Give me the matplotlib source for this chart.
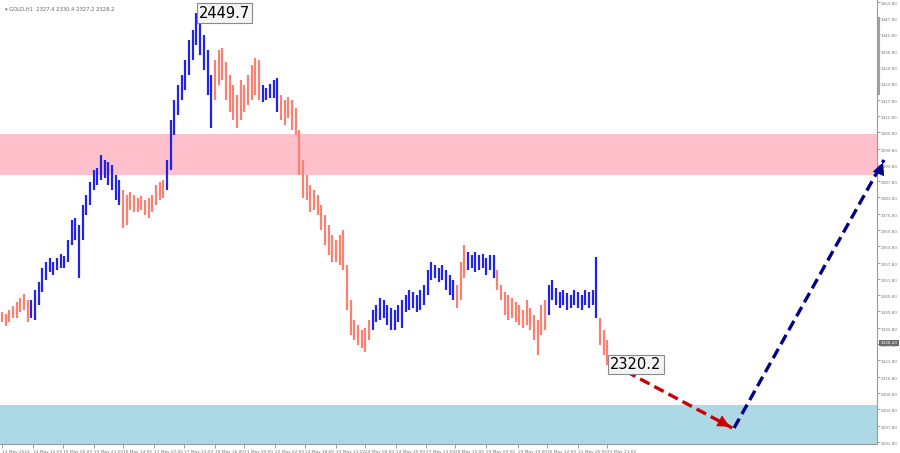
import matplotlib
matplotlib.use('Agg')
import matplotlib.pyplot as plt
import matplotlib.transforms as mtransforms

# hourly bars (one bar shown per two hours), high / low
highs = [2339.6, 2338.9, 2340.4, 2341.8, 2343.3, 2344.8, 2346.2, 2344.0,
         2344.0, 2347.7, 2350.7, 2355.8, 2358.0, 2359.5, 2358.0, 2359.5, 2361.0, 2360.2,
         2366.1, 2373.5, 2374.2, 2371.7, 2379.0, 2382.7, 2387.5, 2391.9, 2392.6, 2397.4,
         2395.6, 2394.9, 2393.7, 2390.1, 2388.2,
         2384.5, 2382.7, 2383.8, 2382.7, 2381.6, 2382.3, 2380.9, 2381.6, 2382.7, 2386.4,
         2387.5, 2388.2,
         2395.6, 2410.3, 2417.7, 2423.2, 2426.9, 2432.4, 2439.8, 2443.5, 2449.7, 2446.4,
         2441.6, 2436.1, 2426.9,
         2432.4, 2436.1, 2436.8, 2431.7, 2426.9, 2423.2, 2419.5, 2425.0, 2423.2, 2426.9,
         2430.6, 2433.1, 2432.4,
         2423.2, 2422.1, 2423.6, 2425.0, 2425.8,
         2419.5, 2417.7, 2418.8, 2417.7, 2414.7, 2406.6, 2395.6, 2390.1, 2386.4, 2384.5,
         2382.7, 2379.0, 2375.3, 2371.7, 2368.0, 2366.1, 2368.0, 2369.8, 2356.9, 2344.0,
         2336.7, 2334.8, 2333.0, 2333.7, 2336.7,
         2340.4, 2342.2, 2344.8, 2344.0, 2342.2, 2341.1, 2340.4, 2342.2, 2344.0, 2345.9,
         2347.7, 2347.0, 2345.9, 2347.7, 2349.6, 2355.1, 2358.0, 2356.9, 2355.8, 2356.9,
         2355.1, 2353.2, 2351.4,
         2349.6, 2358.0, 2364.3,
         2361.7, 2360.6, 2361.7, 2360.6, 2361.0, 2359.5, 2360.6, 2360.6,
         2355.1, 2349.6, 2347.0, 2345.9, 2344.8, 2343.3, 2342.2, 2340.4, 2344.0, 2341.1,
         2338.5, 2336.7, 2342.2, 2344.0,
         2349.6, 2351.4, 2348.5, 2347.0, 2347.7, 2346.6, 2345.9, 2347.7, 2347.0, 2345.9,
         2347.7, 2347.0, 2347.7, 2359.9,
         2337.4, 2333.0, 2329.3]
lows = [2335.9, 2334.5, 2335.9, 2337.4, 2337.4, 2339.6, 2340.4, 2335.9,
        2337.4, 2336.7, 2342.2, 2347.0, 2351.4, 2354.3, 2353.2, 2355.1, 2355.8, 2355.8,
        2358.0, 2364.3, 2366.1, 2352.1, 2366.1, 2375.3, 2379.0, 2384.5, 2386.4, 2388.2,
        2389.0, 2386.4, 2384.5, 2380.9, 2379.0,
        2370.6, 2371.7, 2377.2, 2376.4, 2376.4, 2377.2, 2375.3, 2374.2, 2376.4, 2379.0,
        2380.9, 2381.6,
        2384.5, 2391.9, 2404.8, 2412.2, 2417.7, 2421.4, 2426.9, 2432.4, 2437.9, 2434.2,
        2428.7, 2419.5, 2407.4,
        2417.7, 2423.2, 2425.0, 2417.7, 2413.3, 2410.3, 2407.4, 2410.3, 2413.3, 2415.8,
        2417.7, 2419.5, 2417.7,
        2416.9, 2417.7, 2418.4, 2418.4, 2413.3,
        2410.3, 2408.5, 2411.1, 2406.6, 2404.8, 2390.1, 2381.6, 2380.9, 2376.4, 2377.2,
        2375.3, 2369.8, 2364.3, 2360.6, 2358.0, 2358.0, 2356.9, 2355.1, 2340.4, 2331.2,
        2329.3, 2327.5, 2326.4, 2324.9, 2329.3,
        2333.0, 2335.9, 2336.7, 2337.4, 2334.8, 2333.0, 2333.0, 2335.9, 2333.7, 2339.6,
        2340.4, 2341.1, 2339.6, 2340.4, 2342.2, 2345.9, 2351.4, 2352.1, 2350.7, 2351.4,
        2347.7, 2345.9, 2344.0,
        2341.1, 2344.0, 2352.1,
        2355.1, 2355.8, 2354.3, 2355.1, 2355.8, 2353.2, 2355.1, 2352.1,
        2347.7, 2344.0, 2338.5, 2336.7, 2337.4, 2335.9, 2334.8, 2333.7, 2334.8, 2333.0,
        2329.3, 2323.8, 2331.2, 2333.0,
        2338.5, 2344.0, 2342.2, 2341.1, 2342.2, 2340.4, 2341.1, 2342.2, 2341.1, 2340.4,
        2342.2, 2341.1, 2342.2, 2337.4,
        2327.5, 2323.8, 2320.2]

# wave segments: first bar index of each, alternating down / up
seg_starts = [0, 8, 33, 45, 58, 71, 76, 101, 124, 127, 135, 149, 163]
down_color = '#FA8072'
up_color = '#2323E6'

time_ticks = [0, 17, 33, 50, 66, 83, 99, 116, 132, 149, 165, 182, 198, 215, 231,
              247, 264, 281, 297, 314, 330]
time_labels = ['13 May 2024', '14 May 12:00', '15 May 05:00', '15 May 21:00',
               '16 May 14:00', '17 May 07:00', '17 May 23:00', '20 May 16:00',
               '21 May 09:00', '22 May 02:00', '22 May 18:00', '23 May 11:00',
               '24 May 04:00', '24 May 20:00', '27 May 13:00', '28 May 10:00',
               '29 May 03:00', '29 May 19:00', '30 May 12:00', '31 May 05:00',
               '31 May 21:00']
price_ticks = [2453.8 - 6.0 * k for k in range(28)]

resistance = (2390.1, 2405.2)
support = (2280.0, 2305.4)
peak_price = 2449.7
last_low = 2320.2
last_price = 2328.2
forecast_x = [332.4, 398.0, 480.7]
forecast_y = [2320.5, 2296.9, 2395.6]

fig = plt.figure(figsize=(9, 4.53), dpi=100)
ax = fig.add_axes([0.0, 9 / 453, 877 / 900, 444 / 453])
ax.set_xlim(-1.1, 476.9)
ax.set_ylim(2291.0, 2454.5)

ax.axhspan(*resistance, color='#FFC0CB', lw=0, zorder=0)
ax.axhspan(*support, color='#ADD8E6', lw=0, zorder=0)

bounds = seg_starts + [len(highs)]
for s in range(len(seg_starts)):
    col = down_color if s % 2 == 0 else up_color
    idx = range(bounds[s], bounds[s + 1])
    xs = [2 * i for i in idx]
    ax.vlines(xs, [lows[i] for i in idx], [highs[i] for i in idx],
              color=col, lw=1.6, zorder=3)

box = dict(boxstyle='square,pad=0.15', fc='#f4f4f4', ec='#8a8a8a', lw=0.8)
ax.text(2 * 53 + 1.2, peak_price, '2449.7', fontsize=10.5, va='center',
        ha='left', bbox=box, zorder=5)
ax.text(2 * 165 + 1.5, last_low, '2320.2', fontsize=10.5, va='center',
        ha='left', bbox=box, zorder=5)

# forecast arrows
ax.plot(forecast_x[:2], forecast_y[:2], color='#CC0000', lw=2.4,
        dashes=(3.2, 1.6), zorder=4, clip_on=False)
ax.annotate('', xy=(forecast_x[1], forecast_y[1]),
            xytext=(forecast_x[1] - 6, forecast_y[1] + 2.2),
            arrowprops=dict(arrowstyle='-|>', color='#CC0000', lw=0.5,
                            mutation_scale=20), annotation_clip=False, zorder=4)
ax.plot([forecast_x[1] + 1, forecast_x[2]], forecast_y[1:], color='#00008B', lw=2.4,
        dashes=(3.2, 1.6), zorder=4, clip_on=False)
ax.annotate('', xy=(forecast_x[2], forecast_y[2]),
            xytext=(forecast_x[2] - 3.5, forecast_y[2] - 6.0),
            arrowprops=dict(arrowstyle='-|>', color='#00008B', lw=0.5,
                            mutation_scale=20), annotation_clip=False, zorder=4)

# axes styling
for side in ['top', 'left']:
    ax.spines[side].set_visible(False)
for side in ['right', 'bottom']:
    ax.spines[side].set_color('#9a9a9a')
    ax.spines[side].set_linewidth(0.8)
ax.yaxis.tick_right()
ax.set_yticks(price_ticks)
ax.set_yticklabels([f'{p:.2f}' for p in price_ticks])
ax.tick_params(axis='y', labelsize=3.0, colors='#777777', length=2, width=0.5, pad=1)
for lbl in ax.get_yticklabels():
    lbl.set_verticalalignment('top')
ax.set_xticks(time_ticks)
ax.set_xticklabels(time_labels)
ax.tick_params(axis='x', labelsize=3.1, colors='#777777', length=3, width=0.5, pad=1)
for lbl in ax.get_xticklabels():
    lbl.set_horizontalalignment('left')

trans = mtransforms.blended_transform_factory(ax.transAxes, ax.transData)
ax.text(1.004, last_price, f'{last_price:.2f}', transform=trans, fontsize=3.0,
        color='white', va='center', ha='left',
        bbox=dict(boxstyle='square,pad=0.25', fc='#6a6a6a', ec='none'), zorder=6)
ax.plot([1.002, 1.002], [2420.0, 2448.0], transform=trans, color='#a0a0a0',
        lw=1.5, clip_on=False)

fig.text(0.006, 0.985, '\u25be GOLD,H1  2327.4 2330.4 2327.2 2328.2', fontsize=3.8,
         color='#666666', va='top', ha='left')

fig.savefig('out.png', dpi=100)
